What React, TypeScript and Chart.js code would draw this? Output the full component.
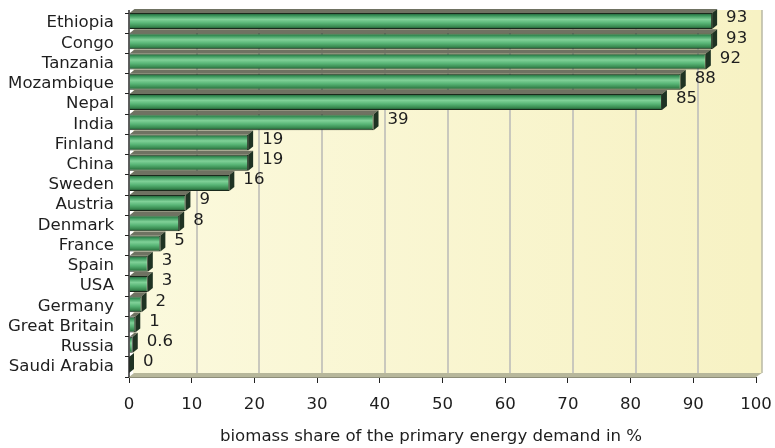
import React, { useEffect, useRef } from "react";
import { Chart, registerables } from "chart.js";

Chart.register(...registerables);

const countries = [
  "Ethiopia", "Congo", "Tanzania", "Mozambique", "Nepal", "India", "Finland", "China",
  "Sweden", "Austria", "Denmark", "France", "Spain", "USA", "Germany", "Great Britain",
  "Russia", "Saudi Arabia",
];
const biomassShare = [93, 93, 92, 88, 85, 39, 19, 19, 16, 9, 8, 5, 3, 3, 2, 1, 0.6, 0];
const xTicks = [0, 10, 20, 30, 40, 50, 60, 70, 80, 90, 100];
const xTitle = "biomass share of the primary energy demand in %";

const FONT = "'DejaVu Sans', Verdana, sans-serif";
const FS = 16.6;
const DX = 5;
const DY = 4;
const SHIFT = -2;

const backdrop = {
  id: "backdrop3d",
  beforeDatasetsDraw(chart: any) {
    const { ctx, chartArea, scales } = chart;
    const x = scales.x;
    const x0 = x.getPixelForValue(0);
    const x1 = x.getPixelForValue(100);
    const top = chartArea.top;
    const bottom = chartArea.bottom;
    ctx.save();
    const g = ctx.createLinearGradient(x0, 0, x1, 0);
    g.addColorStop(0, "#fbf9dd");
    g.addColorStop(1, "#f7f2c4");
    ctx.fillStyle = g;
    ctx.fillRect(x0 + DX - 1, top - 3, x1 - x0 + 2, bottom - DY - top + 3);
    ctx.strokeStyle = "#b9b8a4";
    ctx.lineWidth = 1.5;
    ctx.beginPath();
    ctx.moveTo(x1 + DX + 1, top - 3);
    ctx.lineTo(x1 + DX + 1, bottom - DY);
    ctx.stroke();
    ctx.strokeStyle = "#c9c8bd";
    ctx.lineWidth = 2;
    for (const v of xTicks) {
      if (v === 0 || v === 100) continue;
      const px = Math.round(x.getPixelForValue(v)) + DX;
      ctx.beginPath();
      ctx.moveTo(px, top - 3);
      ctx.lineTo(px, bottom - DY);
      ctx.stroke();
    }
    ctx.fillStyle = "#b7b79b";
    ctx.beginPath();
    ctx.moveTo(x0, bottom);
    ctx.lineTo(x1, bottom);
    ctx.lineTo(x1 + DX + 1, bottom - DY);
    ctx.lineTo(x0 + DX, bottom - DY);
    ctx.closePath();
    ctx.fill();
    ctx.strokeStyle = "#8d8d78";
    ctx.lineWidth = 1;
    ctx.beginPath();
    ctx.moveTo(x0, bottom + 0.5);
    ctx.lineTo(x1, bottom + 0.5);
    ctx.stroke();
    const meta = chart.getDatasetMeta(0);
    meta.data.forEach((bar: any) => {
      const p = bar.getProps(["x", "y", "base", "height"], true);
      const yt = p.y + SHIFT - p.height / 2;
      const yb = p.y + SHIFT + p.height / 2;
      ctx.fillStyle = "#6f7262";
      ctx.beginPath();
      ctx.moveTo(p.base, yt);
      ctx.lineTo(p.x, yt);
      ctx.lineTo(p.x + DX, yt - DY);
      ctx.lineTo(p.base + DX, yt - DY);
      ctx.closePath();
      ctx.fill();
      ctx.fillStyle = "#1f3323";
      ctx.beginPath();
      ctx.moveTo(p.x, yt);
      ctx.lineTo(p.x + DX, yt - DY);
      ctx.lineTo(p.x + DX, yb - DY);
      ctx.lineTo(p.x, yb);
      ctx.closePath();
      ctx.fill();
    });
    ctx.restore();
  },
  beforeDatasetDraw(chart: any) {
    chart.ctx.save();
    chart.ctx.translate(0, SHIFT);
  },
  afterDatasetDraw(chart: any) {
    chart.ctx.restore();
  },
  afterDatasetsDraw(chart: any) {
    const { ctx } = chart;
    const meta = chart.getDatasetMeta(0);
    ctx.save();
    ctx.font = `${FS}px ${FONT}`;
    ctx.fillStyle = "#1e1e1e";
    ctx.textAlign = "left";
    ctx.textBaseline = "middle";
    meta.data.forEach((bar: any, i: number) => {
      const p = bar.getProps(["x", "y"], true);
      ctx.fillText(String(biomassShare[i]), p.x + DX + 9, p.y + SHIFT - 3);
    });
    const x0 = chart.scales.x.getPixelForValue(0);
    ctx.strokeStyle = "#2a2a2a";
    ctx.lineWidth = 1.5;
    ctx.beginPath();
    ctx.moveTo(x0, chart.chartArea.top - 3);
    ctx.lineTo(x0, chart.chartArea.bottom);
    ctx.stroke();
    // axis title
    ctx.textAlign = "center";
    ctx.fillText(xTitle, 431, 437);
    ctx.restore();
  },
};

export default function App() {
  const ref = useRef<HTMLCanvasElement | null>(null);
  useEffect(() => {
    document.body.style.margin = "0";
    const canvas = ref.current;
    if (!canvas) return;
    const chart = new Chart(canvas, {
      type: "bar",
      data: {
        labels: countries,
        datasets: [
          {
            data: biomassShare,
            backgroundColor: (c: any) => {
              const ch = c.chart;
              const ys = ch.scales && ch.scales.y;
              if (!ys || c.dataIndex === undefined) return "#4fae6c";
              const cy = ys.getPixelForValue(c.dataIndex);
              if (!isFinite(cy)) return "#4fae6c";
              const h = 8;
              const g = ch.ctx.createLinearGradient(0, cy - h, 0, cy + h);
              g.addColorStop(0, "#1e5a33");
              g.addColorStop(0.18, "#3f9a5f");
              g.addColorStop(0.4, "#80d198");
              g.addColorStop(0.62, "#58b576");
              g.addColorStop(0.85, "#38884f");
              g.addColorStop(1, "#1d4f2d");
              return g;
            },
            borderColor: "#1a2a1c",
            borderWidth: 1,
            barPercentage: 0.79,
            categoryPercentage: 1,
          },
        ],
      },
      options: {
        indexAxis: "y",
        animation: false,
        responsive: false,
        maintainAspectRatio: false,
        layout: { padding: { top: 13, right: 19, left: 4, bottom: 0 } },
        plugins: {
          legend: { display: false },
          tooltip: { enabled: false },
        },
        scales: {
          x: {
            min: 0,
            max: 100,
            afterFit: (s: any) => {
              s.height = 71;
              s.paddingLeft = 0;
              s.paddingRight = 0;
            },
            ticks: {
              stepSize: 10,
              color: "#1e1e1e",
              font: { family: FONT, size: FS },
              padding: 12,
              maxRotation: 0,
            },
            grid: {
              drawOnChartArea: false,
              tickLength: 6,
              color: "#222",
            },
            border: { display: false },
            title: { display: false },
          },
          y: {
            afterFit: (s: any) => {
              s.width = 125;
              s.paddingTop = 0;
              s.paddingBottom = 0;
            },
            ticks: {
              color: "#1e1e1e",
              font: { family: FONT, size: FS },
              padding: 11,
              autoSkip: false,
            },
            grid: {
              drawOnChartArea: false,
              tickLength: 4,
              color: "#222",
              offset: true,
            },
            border: { display: false },
          },
        },
      },
      plugins: [backdrop],
    });
    return () => chart.destroy();
  }, []);
  return (
    <div style={{ width: 775, height: 448 }}>
      <canvas ref={ref} width={775} height={448} style={{ display: "block" }} />
    </div>
  );
}
